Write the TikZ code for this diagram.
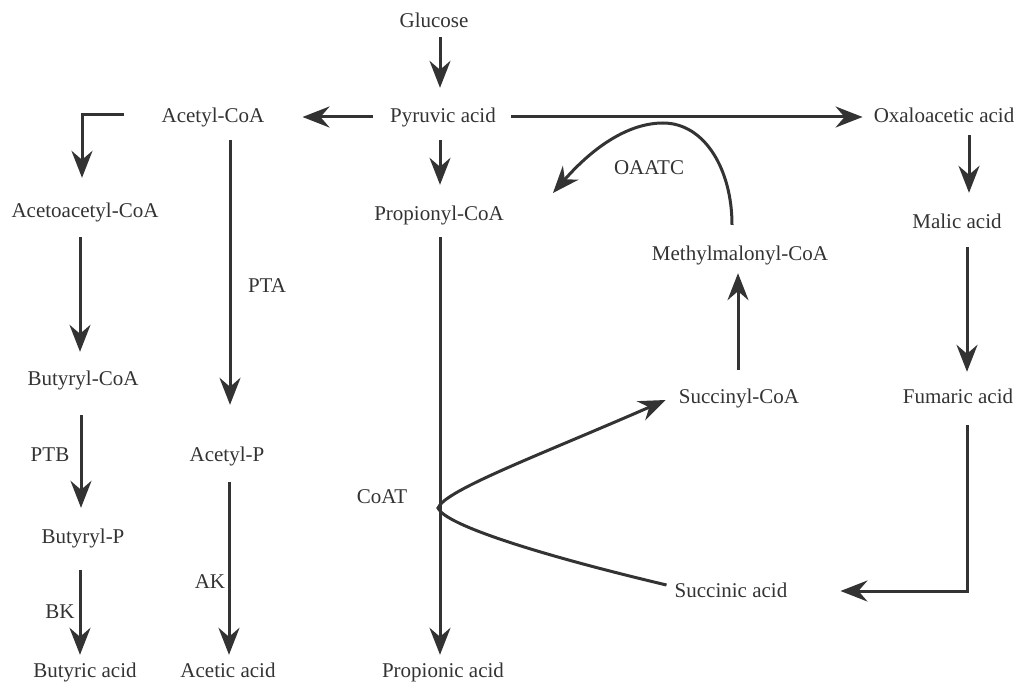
\documentclass[tikz,border=0pt]{standalone}
\usepackage{fontspec}
\setmainfont{Liberation Serif}
\usetikzlibrary{arrows.meta,calc}
\definecolor{ink}{HTML}{333333}
\begin{document}
\begin{tikzpicture}[x=1pt,y=-1pt,
  txt/.style={font=\fontsize{21}{25}\selectfont, text=ink, inner sep=0pt,
    text height=15pt, text depth=5pt, anchor=base},
  arr/.style={draw=ink, line width=3pt,
    -{Stealth[length=27pt,width=21pt,inset=9pt]}},
  ln/.style={draw=ink, line width=3pt}]
\useasboundingbox (0,0) rectangle (1019,682);
% nodes
\node[txt] (glucose)     at (434,28)  {Glucose};
\node[txt] (pyruvic)     at (443,123) {Pyruvic acid};
\node[txt] (acetylcoa)   at (213,122) {Acetyl-CoA};
\node[txt] (oxalo)       at (944,123) {Oxaloacetic acid};
\node[txt] (acetoacetyl) at (85,217)  {Acetoacetyl-CoA};
\node[txt] (propionyl)   at (439,220) {Propionyl-CoA};
\node[txt] (malic)       at (957,228) {Malic acid};
\node[txt] (methyl)      at (740,260) {Methylmalonyl-CoA};
\node[txt] (pta)         at (267,292) {PTA};
\node[txt] (oaatc)       at (649,174) {OAATC};
\node[txt] (butyrylcoa)  at (83,385)  {Butyryl-CoA};
\node[txt] (succinyl)    at (739,403) {Succinyl-CoA};
\node[txt] (fumaric)     at (958,403) {Fumaric acid};
\node[txt] (ptb)         at (50,461)  {PTB};
\node[txt] (acetylp)     at (227,461) {Acetyl-P};
\node[txt] (coat)        at (382,503) {CoAT};
\node[txt] (butyrylp)    at (83,543)  {Butyryl-P};
\node[txt] (ak)          at (210,588) {AK};
\node[txt] (succinic)    at (731,597) {Succinic acid};
\node[txt] (bk)          at (60,618)  {BK};
\node[txt] (butyric)     at (85,677)  {Butyric acid};
\node[txt] (acetic)      at (228,677) {Acetic acid};
\node[txt] (propionic)   at (443,677) {Propionic acid};
\coordinate (fork) at (438,508);
\coordinate (oaatctop) at (663,123);
% connectors
\draw[arr] ($(glucose.south)+(6,4)$) -- ($(pyruvic.north)+(-3,-20)$);
\draw[arr] ($(pyruvic.west)+(-17,-1)$) -- ($(acetylcoa.east)+(38,0)$);
\draw[arr] ($(pyruvic.east)+(15,-1)$) -- ($(oxalo.west)+(-11,-1)$);
\coordinate (e1) at ($(acetoacetyl.north)+(-3,-24)$);
\draw[arr] ($(acetylcoa.west)+(-37,-2)$) -| (e1);
\draw[arr] ($(acetoacetyl.south)+(-5,15)$) -- ($(butyrylcoa.north)+(-3,-18)$);
\draw[arr] ($(butyrylcoa.south)+(-2,25)$) -- ($(butyrylp.north)+(-2,-20)$);
\draw[arr] ($(butyrylp.south)+(-3,22)$) -- ($(butyric.north)+(-5,-7)$);
\draw[arr] ($(acetylcoa.south)+(17,13)$) -- ($(acetylp.north)+(3,-41)$);
\draw[arr] ($(acetylp.south)+(2,16)$) -- ($(acetic.north)+(1,-7)$);
\draw[arr] ($(pyruvic.south)+(-3,12)$) -- ($(propionyl.north)+(1,-20)$);
\draw[arr] ($(propionyl.south)+(1,12)$) -- ($(propionic.north)+(-3,-7)$);
\draw[arr] ($(succinic.west)+(-8,-7)$) .. controls (540,555) and (445,525) .. (fork)
  .. controls (445,490) and (540,455) .. ($(succinyl.west)+(-13,2)$);
\draw[arr] ($(succinyl.north)+(-1,-18)$) -- ($(methyl.south)+(-2,8)$);
\draw[arr] ($(methyl.north)+(-8,-20)$) .. controls (732,170) and (705,123) .. (oaatctop)
  .. controls (630,123) and (595,145) .. ($(propionyl.east)+(49,-22)$);
\draw[arr] ($(oxalo.south)+(25,7)$) -- ($(malic.north)+(12,-20)$);
\draw[arr] ($(malic.south)+(10,14)$) -- ($(fumaric.north)+(9,-16)$);
\draw[arr] ($(fumaric.south)+(9,17)$) |- ($(succinic.east)+(53,-1)$);
\end{tikzpicture}
\end{document}
